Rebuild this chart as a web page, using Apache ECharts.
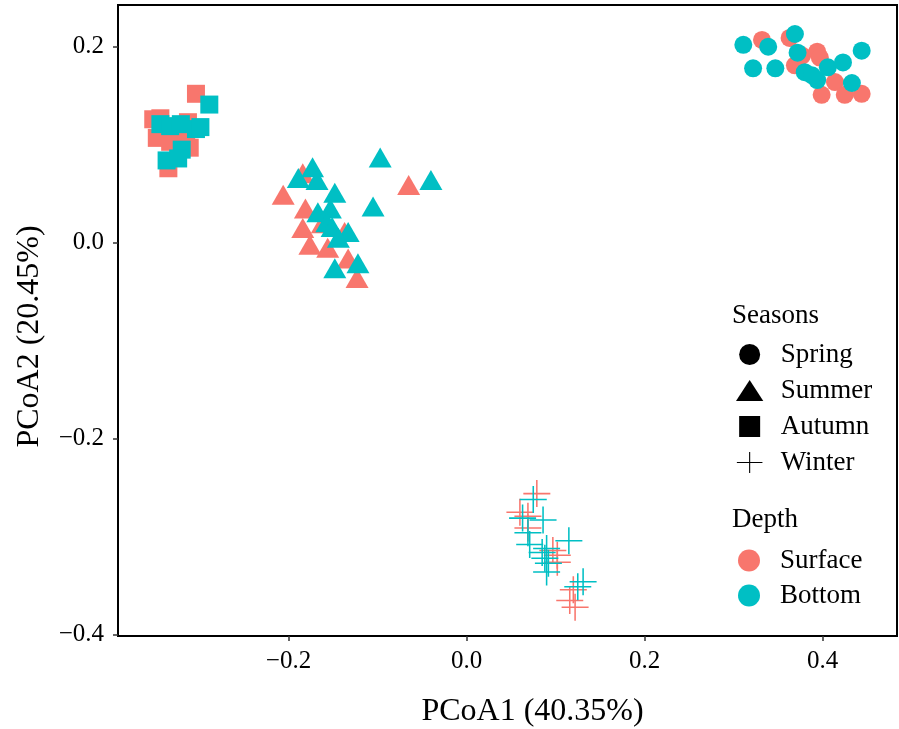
<!DOCTYPE html>
<html>
<head>
<meta charset="utf-8">
<title>PCoA</title>
<script src="https://cdn.jsdelivr.net/npm/echarts@6/dist/echarts.min.js"></script>
<style>
  body { margin: 0; background: #fff; }
  #main { width: 899px; height: 729px; }
</style>
</head>
<body>
<div id="main"></div>
<script>
// tick labels
var xTicks = [-0.2, 0, 0.2, 0.4];
var yTicks = [-0.4, -0.2, 0, 0.2];

var seasons = ['Spring', 'Summer', 'Autumn', 'Winter'];
var depths = ['Surface', 'Bottom'];

// [PCoA1, PCoA2]
var springSurface = [
    [0.332, 0.207], [0.363, 0.209], [0.377, 0.191], [0.394, 0.195], [0.397, 0.189],
    [0.369, 0.181], [0.414, 0.164], [0.399, 0.151], [0.425, 0.151], [0.444, 0.152]
];
var springBottom = [
    [0.311, 0.202], [0.339, 0.200], [0.322, 0.178], [0.347, 0.178], [0.369, 0.213],
    [0.372, 0.194], [0.380, 0.174], [0.394, 0.166], [0.406, 0.179], [0.423, 0.184],
    [0.444, 0.196], [0.433, 0.163], [0.388, 0.171]
];
var summerSurface = [
    [-0.184, 0.071], [-0.206, 0.049], [-0.181, 0.035], [-0.162, 0.020], [-0.184, 0.015],
    [-0.137, 0.011], [-0.176, -0.002], [-0.156, -0.005], [-0.133, -0.016], [-0.123, -0.036],
    [-0.065, 0.059]
];
var summerBottom = [
    [-0.173, 0.077], [-0.189, 0.066], [-0.168, 0.064], [-0.148, 0.051], [-0.167, 0.031],
    [-0.153, 0.035], [-0.157, 0.021], [-0.151, 0.016], [-0.133, 0.011], [-0.144, 0.005],
    [-0.148, -0.026], [-0.122, -0.021], [-0.097, 0.087], [-0.040, 0.064], [-0.105, 0.037]
];
var autumnSurface = [
    [-0.304, 0.152], [-0.352, 0.126], [-0.344, 0.127], [-0.313, 0.123], [-0.348, 0.107],
    [-0.333, 0.103], [-0.315, 0.108], [-0.311, 0.097], [-0.335, 0.076]
];
var autumnBottom = [
    [-0.289, 0.141], [-0.344, 0.121], [-0.333, 0.119], [-0.321, 0.121], [-0.304, 0.116],
    [-0.299, 0.118], [-0.320, 0.095], [-0.337, 0.084], [-0.324, 0.086]
];
var winterSurface = [
    [0.079, -0.256], [0.060, -0.275], [0.069, -0.279], [0.069, -0.291], [0.097, -0.314],
    [0.102, -0.319], [0.102, -0.326], [0.120, -0.354], [0.116, -0.365], [0.122, -0.372]
];
var winterBottom = [
    [0.075, -0.262], [0.063, -0.281], [0.086, -0.283], [0.069, -0.296], [0.115, -0.304],
    [0.071, -0.308], [0.090, -0.312], [0.085, -0.316], [0.088, -0.322], [0.092, -0.327],
    [0.090, -0.336], [0.131, -0.346], [0.125, -0.351]
];

var pointData = {
    Spring: { Surface: springSurface, Bottom: springBottom },
    Summer: { Surface: summerSurface, Bottom: summerBottom },
    Autumn: { Surface: autumnSurface, Bottom: autumnBottom },
    Winter: { Surface: winterSurface, Bottom: winterBottom }
};

var depthColor = { Surface: '#F8766D', Bottom: '#00BFC4' };
var crossPath = 'path://M-0.8,-14h1.6v28h-1.6z M-14,-0.8h28v1.6h-28z';
var seasonSymbol = {
    Spring: { symbol: 'circle', size: 18 },
    Summer: { symbol: 'triangle', size: [23, 20] },
    Autumn: { symbol: 'rect', size: [18, 18] },
    Winter: { symbol: crossPath, size: [27, 27] }
};
var legendIcon = {
    Spring: 'circle',
    Summer: 'path://M0,0L13,-20L26,0Z',
    Autumn: 'path://M0,0h18v18h-18z',
    Winter: 'path://M13.4,0h1.2v23h-1.2z M0,10.9h28v1.2h-28z'
};

var serif = 'Liberation Serif';

function fmt(v) {
    return (v < -1e-9 ? '\u2212' : '') + Math.abs(v).toFixed(1);
}

var series = [];
seasons.forEach(function (s) {
    depths.forEach(function (d) {
        series.push({
            name: s + ' ' + d,
            type: 'scatter',
            symbol: seasonSymbol[s].symbol,
            symbolSize: seasonSymbol[s].size,
            itemStyle: { color: depthColor[d], opacity: 1 },
            data: pointData[s][d],
            silent: true
        });
    });
});
// empty series, only for the legends
seasons.forEach(function (s) {
    series.push({ name: s, type: 'scatter', data: [], itemStyle: { color: '#000', opacity: 1 } });
});
depths.forEach(function (d) {
    series.push({ name: d, type: 'scatter', data: [], itemStyle: { color: depthColor[d], opacity: 1 } });
});

var legendText = { fontFamily: serif, fontSize: 27, color: '#000' };
var titleText = { fontFamily: serif, fontSize: 27, fontWeight: 'normal', color: '#000' };

var option = {
    backgroundColor: '#fff',
    animation: false,
    textStyle: { fontFamily: serif },
    grid: {
        left: 118, right: 2, top: 5, bottom: 93,
        outerBoundsMode: 'none',
        show: true, borderColor: '#000', borderWidth: 2,
        backgroundColor: 'transparent'
    },
    title: [
        { text: 'Seasons', left: 732, top: 302, padding: 0, textStyle: titleText },
        { text: 'Depth', left: 732, top: 506, padding: 0, textStyle: titleText }
    ],
    legend: [
        {
            // left is where the widest icon (triangle) starts
            orient: 'vertical', left: 736, top: 341, padding: 0,
            itemWidth: 52, itemHeight: 21, itemGap: 9,
            selectedMode: false,
            textStyle: legendText,
            itemStyle: { opacity: 1 },
            data: seasons.map(function (s) { return { name: s, icon: legendIcon[s] }; })
        },
        {
            orient: 'vertical', left: 738, top: 547, padding: 0,
            itemWidth: 52, itemHeight: 22, itemGap: 8,
            selectedMode: false,
            textStyle: legendText,
            itemStyle: { opacity: 1 },
            data: depths.map(function (d) { return { name: d, icon: 'circle' }; })
        }
    ],
    xAxis: {
        type: 'value',
        min: -0.3916, max: 0.4837,
        name: 'PCoA1 (40.35%)',
        nameLocation: 'middle',
        nameGap: 60,
        nameTextStyle: { fontFamily: serif, fontSize: 32, color: '#000', padding: [0, 0, 0, 50] },
        axisLine: { show: false, onZero: false },
        splitLine: { show: false },
        axisTick: { show: true, length: 5, customValues: xTicks,
                    lineStyle: { color: '#333', width: 1.5 } },
        axisLabel: { customValues: xTicks, margin: 13, formatter: fmt,
                     fontFamily: serif, fontSize: 25, color: '#000' }
    },
    yAxis: {
        type: 'value',
        min: -0.4013, max: 0.2426,
        name: 'PCoA2 (20.45%)',
        nameLocation: 'middle',
        nameGap: 72,
        nameTextStyle: { fontFamily: serif, fontSize: 32, color: '#000', padding: [0, 32, 0, 0] },
        axisLine: { show: false, onZero: false },
        splitLine: { show: false },
        axisTick: { show: true, length: 5, customValues: yTicks,
                    lineStyle: { color: '#333', width: 1.5 } },
        axisLabel: { customValues: yTicks, margin: 14, formatter: fmt,
                     fontFamily: serif, fontSize: 25, color: '#000' }
    },
    series: series
};

var myChart = echarts.init(document.getElementById('main'), null, { renderer: 'canvas' });
myChart.setOption(option);
</script>
</body>
</html>
